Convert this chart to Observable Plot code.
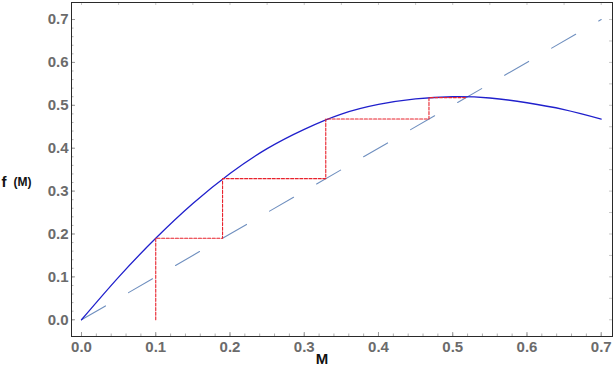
<!DOCTYPE html>
<html><head><meta charset="utf-8">
<script src="https://cdn.jsdelivr.net/npm/d3@7"></script>
<script src="https://cdn.jsdelivr.net/npm/@observablehq/plot@0.6"></script>
<style>body{margin:0;background:#fff}</style>
</head><body><div id="chart"></div>
<script>
// Curve f(M)
const M  = [0, 0.05, 0.1, 0.15, 0.2, 0.25, 0.3, 0.35, 0.4, 0.45, 0.5, 0.55, 0.6, 0.65, 0.7];
const fM = [0, 0.0995, 0.19, 0.271, 0.341, 0.399, 0.444, 0.4795, 0.502, 0.515, 0.520, 0.517, 0.506, 0.490, 0.468];
// Cobweb iterates starting at M0 = 0.1
const iterates = [0.1, 0.19, 0.329, 0.468, 0.518];
// Identity line end points
const diagonal = [0, 0.7];
// Tick labels
const xTicks = [0, 0.1, 0.2, 0.3, 0.4, 0.5, 0.6, 0.7];
const yTicks = [0, 0.1, 0.2, 0.3, 0.4, 0.5, 0.6, 0.7];

const W = 615, H = 371, mt = 2, mr = 3, mb = 35, ml = 71;
const innerH = H - mt - mb, innerW = W - ml - mr;

const curve = M.map((m, i) => ({m, f: fM[i]}));
const cobweb = [{m: iterates[0], f: 0}];
for (let i = 0; i < iterates.length - 1; i++) {
  cobweb.push({m: iterates[i], f: iterates[i + 1]});
  cobweb.push({m: iterates[i + 1], f: iterates[i + 1]});
}
const diag = diagonal.map(v => ({m: v, f: v}));
const xMinor = d3.range(0, 0.7001, 0.02);
const yMinor = d3.range(0, 0.7001, 0.02);
const topT = d3.range(0, 0.7001, 0.05);
const rightT = d3.range(0, 0.7001, 0.05);

const font = "'Liberation Sans', Arial, sans-serif";
const chart = Plot.plot({
  width: W, height: H,
  marginTop: mt, marginRight: mr, marginBottom: mb, marginLeft: ml,
  style: {fontFamily: font, background: "#fff"},
  x: {domain: [-0.01347, 0.7152]},
  y: {domain: [-0.039, 0.7397]},
  marks: [
    Plot.ruleX(xMinor, {x: d => d, insetTop: innerH - 2.5, stroke: "#b0b0b0"}),
    Plot.ruleX(xTicks, {x: d => d, insetTop: innerH - 4, stroke: "#999"}),
    Plot.ruleX(topT, {x: d => d, insetBottom: innerH - 3, stroke: "#c8c8c8"}),
    Plot.ruleY(yMinor, {y: d => d, insetRight: innerW - 2.5, stroke: "#b0b0b0"}),
    Plot.ruleY(yTicks, {y: d => d, insetRight: innerW - 4, stroke: "#999"}),
    Plot.ruleY(rightT, {y: d => d, insetLeft: innerW - 3, stroke: "#c8c8c8"}),
    Plot.frame({stroke: "#2a2a2a", strokeWidth: 1}),
    Plot.axisX(xTicks, {tickSize: 0, tickPadding: 5, tickFormat: d3.format(".1f"), fontSize: 15, fontWeight: "bold", fill: "#6b6b6b", label: null}),
    Plot.axisY(yTicks, {tickSize: 0, tickPadding: 3, tickFormat: d3.format(".1f"), fontSize: 15, fontWeight: "bold", fill: "#6b6b6b", label: null}),
    Plot.line(diag, {x: "m", y: "f", stroke: "#6f8fbf", strokeWidth: 1.1, strokeDasharray: "27.7,26.6"}),
    Plot.line(curve, {x: "m", y: "f", curve: "natural", stroke: "#2020cc", strokeWidth: 1.3}),
    Plot.line(cobweb, {x: "m", y: "f", stroke: "#e8222c", strokeWidth: 1.1, strokeDasharray: "3,1.6"}),
    Plot.text(["f"], {text: d => d, frameAnchor: "left", dx: -70, dy: 13, textAnchor: "start", fontSize: 15, fontWeight: "bold", fill: "#111"}),
    Plot.text(["(M)"], {text: d => d, frameAnchor: "left", dx: -58, dy: 13, textAnchor: "start", fontSize: 12, fontWeight: "bold", fill: "#111"}),
    Plot.text(["M"], {text: d => d, frameAnchor: "bottom", dx: -20, dy: 27, fontSize: 15, fontWeight: "bold", fill: "#111"})
  ]
});
document.getElementById("chart").appendChild(chart);
</script>
</body></html>
